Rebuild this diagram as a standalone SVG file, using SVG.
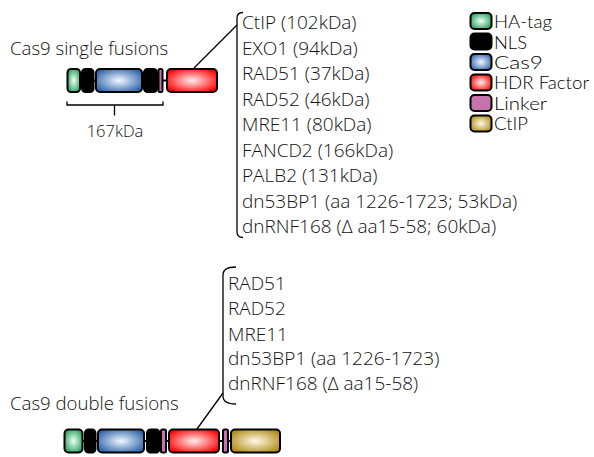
<svg xmlns="http://www.w3.org/2000/svg" width="594" height="457" viewBox="0 0 594 457">
  <defs>
    <radialGradient id="gGreen" cx="0.5" cy="0.5" r="0.6">
      <stop offset="0" stop-color="#f2fff7"/>
      <stop offset="1" stop-color="#1f9e55"/>
    </radialGradient>
    <radialGradient id="gBlue" cx="0.5" cy="0.5" r="0.6">
      <stop offset="0" stop-color="#f4f8ff"/>
      <stop offset="1" stop-color="#2a63aa"/>
    </radialGradient>
    <radialGradient id="gRed" cx="0.5" cy="0.5" r="0.6">
      <stop offset="0" stop-color="#fff0f0"/>
      <stop offset="1" stop-color="#ff0000"/>
    </radialGradient>
    <radialGradient id="gGold" cx="0.5" cy="0.5" r="0.6">
      <stop offset="0" stop-color="#fffbea"/>
      <stop offset="1" stop-color="#b08914"/>
    </radialGradient>
  </defs>
  <style>
    text { font-family: "Open Sans", "Liberation Sans", sans-serif; font-weight: 300; font-size: 18.6px; fill: #111; }
    .list { font-size: 19px; }
    .key { font-family: Lato, "Open Sans", sans-serif; font-weight: 300; font-size: 17px; fill: #000; }
    .seg { stroke: #000; stroke-width: 2; }
    .ha { fill: url(#gGreen); }
    .nls { fill: #000; }
    .cas { fill: url(#gBlue); }
    .hdr { fill: url(#gRed); }
    .lnk { fill: #c673ad; }
    .ctip { fill: url(#gGold); }
    .wire { stroke: #000; stroke-width: 2; fill: none; }
    .thin { stroke: #000; stroke-width: 1.3; fill: none; }
  </style>

  <!-- titles -->
  <text x="10" y="55">Cas9 single fusions</text>
  <text x="10" y="410">Cas9 double fusions</text>

  <!-- single fusion construct -->
  <g id="single-fusion">
    <line class="wire" x1="70" y1="80.5" x2="215" y2="80.5"/>
    <rect class="seg ha" x="67.5" y="69" width="12.5" height="23" rx="3.5"/>
    <rect class="seg nls" x="82" y="69" width="11.5" height="23" rx="3.5"/>
    <rect class="seg cas" x="96" y="69" width="46" height="23" rx="4"/>
    <rect class="seg nls" x="144" y="69" width="13" height="23" rx="3.5"/>
    <rect class="seg lnk" x="158.5" y="69" width="4" height="23" rx="1.5"/>
    <rect class="seg hdr" x="167" y="69" width="50" height="23" rx="4"/>
  </g>

  <!-- size bracket under the Cas9 part -->
  <g id="size-label">
    <path class="thin" d="M67,101.5 V105 H163 V101.5 M114.5,105 V115.5"/>
    <text x="115" y="137" text-anchor="middle" style="font-size:16.5px">167kDa</text>
  </g>

  <!-- double fusion construct -->
  <g id="double-fusion">
    <line class="wire" x1="66" y1="441" x2="278" y2="441"/>
    <rect class="seg ha" x="64.5" y="429.5" width="18" height="23" rx="4"/>
    <rect class="seg nls" x="85" y="429.5" width="10.5" height="23" rx="3.5"/>
    <rect class="seg cas" x="98" y="429.5" width="46" height="23" rx="4"/>
    <rect class="seg nls" x="147" y="429.5" width="12.5" height="23" rx="3.5"/>
    <rect class="seg lnk" x="161" y="429.5" width="5" height="23" rx="1.5"/>
    <rect class="seg hdr" x="169" y="429.5" width="50" height="23" rx="4"/>
    <rect class="seg lnk" x="223" y="429.5" width="5" height="23" rx="1.5"/>
    <rect class="seg ctip" x="231" y="429.5" width="49" height="23" rx="4"/>
  </g>

  <!-- factor lists -->
  <g id="single-factors">
    <text class="list" x="242" y="29">CtIP (102kDa)</text>
    <text class="list" x="242" y="55">EXO1 (94kDa)</text>
    <text class="list" x="242" y="80">RAD51 (37kDa)</text>
    <text class="list" x="242" y="106">RAD52 (46kDa)</text>
    <text class="list" x="242" y="131">MRE11 (80kDa)</text>
    <text class="list" x="242" y="157">FANCD2 (166kDa)</text>
    <text class="list" x="242" y="182">PALB2 (131kDa)</text>
    <text class="list" x="242" y="208">dn53BP1 (aa 1226-1723; 53kDa)</text>
    <text class="list" x="242" y="233">dnRNF168 (Δ aa15-58; 60kDa)</text>
  </g>
  <g id="double-factors">
    <text class="list" x="228" y="290">RAD51</text>
    <text class="list" x="228" y="315">RAD52</text>
    <text class="list" x="228" y="341">MRE11</text>
    <text class="list" x="228" y="365">dn53BP1 (aa 1226-1723)</text>
    <text class="list" x="228" y="390">dnRNF168 (Δ aa15-58)</text>
  </g>

  <!-- connectors: braces and leader lines -->
  <g id="connectors">
    <path class="thin" d="M243,12.5 Q237,12.5 237,18 V232 Q237,237.5 243,237.5"/>
    <line class="thin" x1="194" y1="68" x2="237" y2="25"/>
    <path class="thin" d="M236,267 Q223,267 223,275 V396 Q223,404 236,404"/>
    <line class="thin" x1="197" y1="429" x2="223" y2="393"/>
  </g>

  <!-- legend -->
  <g id="legend">
    <g id="legend-ha"><rect class="seg ha" x="470.5" y="13" width="21" height="16" rx="4"/><text class="key" x="494" y="28" textLength="58" lengthAdjust="spacingAndGlyphs">HA-tag</text></g>
    <g id="legend-nls"><rect class="seg nls" x="470.5" y="33.5" width="21" height="16" rx="4"/><text class="key" x="494" y="48.5" textLength="33" lengthAdjust="spacingAndGlyphs">NLS</text></g>
    <g id="legend-cas9"><rect class="seg cas" x="470.5" y="54" width="21" height="16" rx="4"/><text class="key" x="494" y="69" textLength="49" lengthAdjust="spacingAndGlyphs">Cas9</text></g>
    <g id="legend-hdr"><rect class="seg hdr" x="470.5" y="74.5" width="21" height="16" rx="4"/><text class="key" x="494" y="89" textLength="95" lengthAdjust="spacingAndGlyphs">HDR Factor</text></g>
    <g id="legend-linker"><rect class="seg lnk" x="470.5" y="95" width="21" height="16" rx="4"/><text class="key" x="494" y="110" textLength="53" lengthAdjust="spacingAndGlyphs">Linker</text></g>
    <g id="legend-ctip"><rect class="seg ctip" x="470.5" y="115.5" width="21" height="16" rx="4"/><text class="key" x="494" y="130" textLength="34" lengthAdjust="spacingAndGlyphs">CtIP</text></g>
  </g>
</svg>
